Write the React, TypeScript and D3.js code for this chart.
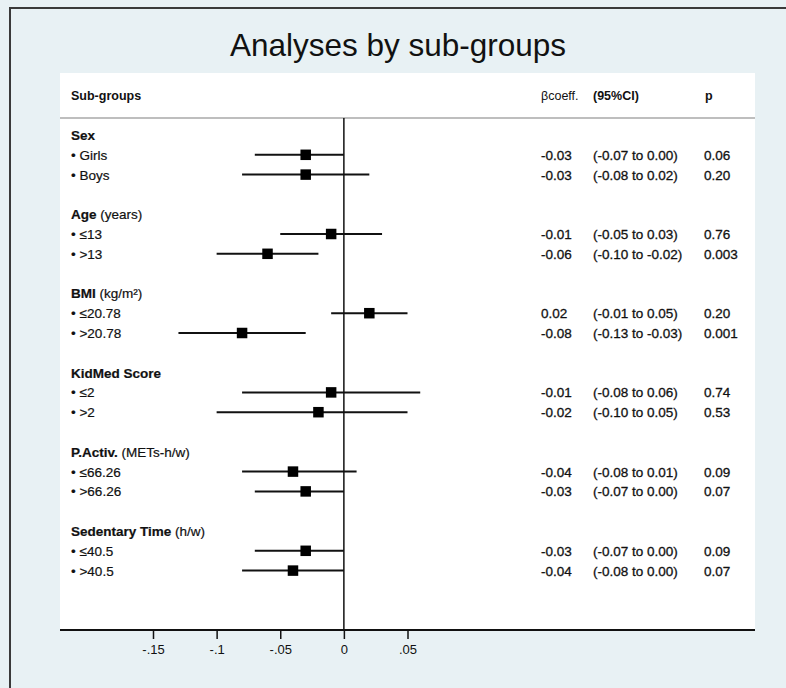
import React, { useEffect, useRef } from 'react';
import * as d3 from 'd3';

// sub-group blocks
const groupNames = ['Sex', 'Age', 'BMI', 'KidMed Score', 'P.Activ.', 'Sedentary Time'];
const groupUnits = ['', '(years)', '(kg/m²)', '', '(METs-h/w)', '(h/w)'];
const subLabels = [
  ['Girls', 'Boys'],
  ['≤13', '>13'],
  ['≤20.78', '>20.78'],
  ['≤2', '>2'],
  ['≤66.26', '>66.26'],
  ['≤40.5', '>40.5'],
];

// one entry per sub-group row, in order
const beta = [-0.03, -0.03, -0.01, -0.06, 0.02, -0.08, -0.01, -0.02, -0.04, -0.03, -0.03, -0.04];
const ciLow = [-0.07, -0.08, -0.05, -0.10, -0.01, -0.13, -0.08, -0.10, -0.08, -0.07, -0.07, -0.08];
const ciHigh = [0.00, 0.02, 0.03, -0.02, 0.05, -0.03, 0.06, 0.05, 0.01, 0.00, 0.00, 0.00];
const pValues = ['0.06', '0.20', '0.76', '0.003', '0.20', '0.001', '0.74', '0.53', '0.09', '0.07', '0.09', '0.07'];

const xTicks = [-0.15, -0.1, -0.05, 0, 0.05];

const W = 786;
const H = 688;
const FONT = '"Liberation Sans", Arial, Helvetica, sans-serif';
const INK = '#111';

const fmt2 = (v: number) => (v < 0 ? '-' : '') + Math.abs(v).toFixed(2);
const fmtTick = (v: number) => {
  if (v === 0) return '0';
  const s = String(Math.abs(+v.toFixed(2))).replace(/^0/, '');
  return (v < 0 ? '-' : '') + s;
};

const App: React.FC = () => {
  const svgRef = useRef<SVGSVGElement>(null);

  useEffect(() => {
    if (!svgRef.current) return;
    const svg = d3.select(svgRef.current);
    svg.selectAll('*').remove();

    const panel = { left: 60, right: 755, top: 73, bottom: 630 };
    const headerLineY = 118;

    // background + frame
    svg.append('rect').attr('width', W).attr('height', H).attr('fill', '#e8f1f4');
    svg.append('path')
      .attr('d', `M10,${H + 5}V8H${W + 5}`)
      .attr('fill', 'none')
      .attr('stroke', '#3a3a3a')
      .attr('stroke-width', 2);

    svg.append('rect')
      .attr('x', panel.left)
      .attr('y', panel.top)
      .attr('width', panel.right - panel.left)
      .attr('height', panel.bottom - panel.top)
      .attr('fill', '#fff');

    // title
    svg.append('text')
      .attr('x', 398)
      .attr('y', 56)
      .attr('text-anchor', 'middle')
      .attr('font-family', FONT)
      .attr('font-size', 31.5)
      .attr('fill', INK)
      .text('Analyses by sub-groups');

    // column headers
    const header = svg.append('g').attr('font-family', FONT).attr('fill', INK);
    header.append('text').attr('x', 71).attr('y', 100).attr('font-size', 12.5).attr('font-weight', 'bold').text('Sub-groups');
    header.append('text').attr('x', 541).attr('y', 100).attr('font-size', 12.5).text('βcoeff.');
    header.append('text').attr('x', 593).attr('y', 100).attr('font-size', 12.5).attr('font-weight', 'bold').text('(95%CI)');
    header.append('text').attr('x', 705).attr('y', 100).attr('font-size', 12.5).attr('font-weight', 'bold').text('p');

    svg.append('line')
      .attr('x1', panel.left).attr('x2', panel.right)
      .attr('y1', headerLineY).attr('y2', headerLineY)
      .attr('stroke', '#a8a8a8').attr('stroke-width', 1.5);

    // scales
    const x = d3.scaleLinear().domain([-0.15, 0.05]).range([153, 407.5]);
    const y = d3.scaleLinear().domain([0, 22]).range([135, 570.6]);

    // rows
    type Row = { kind: 'group' | 'item'; slot: number; g: number; i?: number; label: string };
    const rows: Row[] = [];
    let k = 0;
    groupNames.forEach((name, g) => {
      rows.push({ kind: 'group', slot: g * 4, g, label: name });
      subLabels[g].forEach((lab, j) => {
        rows.push({ kind: 'item', slot: g * 4 + 1 + j, g, i: k, label: lab });
        k++;
      });
    });

    const labels = svg.append('g')
      .attr('font-family', FONT).attr('font-size', 13.5).attr('fill', INK)
      .attr('stroke', INK).attr('stroke-width', 0.2);
    rows.forEach(r => {
      const t = labels.append('text').attr('x', 71).attr('y', y(r.slot) + 5);
      if (r.kind === 'group') {
        t.append('tspan').attr('font-weight', 'bold').text(r.label);
        if (groupUnits[r.g]) t.append('tspan').text(' ' + groupUnits[r.g]);
      } else {
        t.text('• ' + r.label);
      }
    });

    const items = rows.filter(r => r.kind === 'item');

    // table values
    const vals = svg.append('g')
      .attr('font-family', FONT).attr('font-size', 13.5).attr('fill', INK)
      .attr('stroke', INK).attr('stroke-width', 0.3);
    items.forEach(r => {
      const i = r.i as number;
      const yy = y(r.slot) + 5;
      vals.append('text').attr('x', 541).attr('y', yy).text(fmt2(beta[i]));
      vals.append('text').attr('x', 593).attr('y', yy).text(`(${fmt2(ciLow[i])} to ${fmt2(ciHigh[i])})`);
      vals.append('text').attr('x', 704).attr('y', yy).text(pValues[i]);
    });

    // zero line
    svg.append('line')
      .attr('x1', x(0)).attr('x2', x(0))
      .attr('y1', headerLineY).attr('y2', panel.bottom)
      .attr('stroke', INK).attr('stroke-width', 1.5);

    // CI lines and point estimates
    const marks = svg.append('g');
    marks.selectAll('line.ci')
      .data(items)
      .enter()
      .append('line')
      .attr('class', 'ci')
      .attr('x1', d => x(ciLow[d.i as number]))
      .attr('x2', d => x(ciHigh[d.i as number]))
      .attr('y1', d => y(d.slot))
      .attr('y2', d => y(d.slot))
      .attr('stroke', INK)
      .attr('stroke-width', 2);
    const sq = 10.5;
    marks.selectAll('rect.est')
      .data(items)
      .enter()
      .append('rect')
      .attr('class', 'est')
      .attr('x', d => x(beta[d.i as number]) - sq / 2)
      .attr('y', d => y(d.slot) - sq / 2)
      .attr('width', sq)
      .attr('height', sq)
      .attr('fill', '#000');

    // x axis
    svg.append('line')
      .attr('x1', panel.left).attr('x2', panel.right)
      .attr('y1', panel.bottom).attr('y2', panel.bottom)
      .attr('stroke', INK).attr('stroke-width', 2);
    const axis = svg.append('g')
      .attr('transform', `translate(0,${panel.bottom})`)
      .call(d3.axisBottom(x).tickValues(xTicks).tickSize(9).tickPadding(6).tickFormat(d => fmtTick(+d)));
    axis.select('.domain').remove();
    axis.selectAll('.tick line').attr('stroke', INK).attr('stroke-width', 1.5);
    axis.selectAll('.tick text')
      .attr('font-family', FONT)
      .attr('font-size', 13)
      .attr('fill', INK);
  }, []);

  return (
    <svg
      ref={svgRef}
      width={W}
      height={H}
      style={{ position: 'absolute', left: 0, top: 0, display: 'block' }}
    />
  );
};

export default App;
